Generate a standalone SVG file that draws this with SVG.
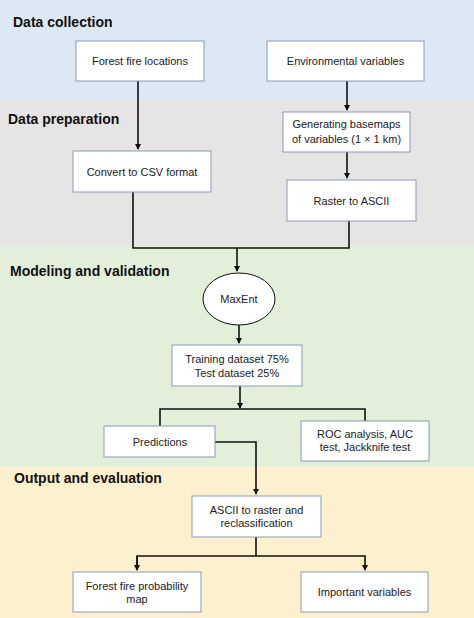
<svg xmlns="http://www.w3.org/2000/svg" width="474" height="618" viewBox="0 0 474 618">
<style>
.t{font-family:"Liberation Sans",Arial,sans-serif;font-size:14px;font-weight:bold;fill:#111}
.n{font-family:"Liberation Sans",Arial,sans-serif;font-size:11px;fill:#222;text-anchor:middle}
.b{fill:#fff;stroke:#8a9bb5;stroke-width:1}
.c{fill:none;stroke:#111;stroke-width:1.6}
</style>
<defs>
<marker id="ah" markerWidth="6" markerHeight="6" refX="5" refY="3" orient="auto" markerUnits="userSpaceOnUse">
<path d="M0,0 L6,3 L0,6 Z" fill="#111"/>
</marker>
</defs>
<g id="bands">
<rect x="0" y="0" width="474" height="100" fill="#dce9f5"/>
<rect x="0" y="100" width="474" height="146" fill="#e6e4e4"/>
<rect x="0" y="246" width="474" height="221" fill="#e2efd9"/>
<rect x="0" y="467" width="474" height="151" fill="#fdf0cf"/>
<text class="t" x="13" y="27">Data collection</text>
<text class="t" x="8" y="124">Data preparation</text>
<text class="t" x="10" y="276">Modeling and validation</text>
<text class="t" x="14" y="483">Output and evaluation</text>
</g>
<g id="connectors">
<path class="c" d="M138,81 V149" marker-end="url(#ah)"/>
<path class="c" d="M347,81 V110" marker-end="url(#ah)"/>
<path class="c" d="M347,152 V178" marker-end="url(#ah)"/>
<path class="c" d="M133,192 V248 H349 V221"/>
<path class="c" d="M237,248 V271" marker-end="url(#ah)"/>
<path class="c" d="M239,325 V343" marker-end="url(#ah)"/>
<path class="c" d="M240,386 V408" marker-end="url(#ah)"/>
<path class="c" d="M160,426 V409 H365 V421"/>
<path class="c" d="M215,442 H256 V494" marker-end="url(#ah)"/>
<path class="c" d="M256,537 V556"/>
<path class="c" d="M137,570 V556 H365 V570" marker-end="url(#ah)"/>
<path class="c" d="M137,556 V570" marker-end="url(#ah)"/>
</g>
<g id="n1"><rect class="b" x="76" y="41" width="128" height="40"/><text class="n" x="140" y="65">Forest fire locations</text></g>
<g id="n2"><rect class="b" x="267" y="41" width="157" height="40"/><text class="n" x="345.5" y="65">Environmental variables</text></g>
<g id="n3"><rect class="b" x="283" y="112" width="127" height="40"/><text class="n" x="346.5" y="128">Generating basemaps</text><text class="n" x="346.5" y="143">of variables (1 × 1 km)</text></g>
<g id="n4"><rect class="b" x="73" y="151" width="138" height="41"/><text class="n" x="142" y="176">Convert to CSV format</text></g>
<g id="n5"><rect class="b" x="287" y="180" width="129" height="41"/><text class="n" x="351.5" y="205">Raster to ASCII</text></g>
<g id="n6"><ellipse cx="239" cy="299" rx="36" ry="26" fill="#fff" stroke="#111" stroke-width="1"/><text class="n" x="239" y="303">MaxEnt</text></g>
<g id="n7"><rect class="b" x="172" y="345" width="130" height="41"/><text class="n" x="237" y="363">Training dataset 75%</text><text class="n" x="237" y="377">Test dataset 25%</text></g>
<g id="n8"><rect class="b" x="104" y="426" width="111" height="31"/><text class="n" x="160" y="446">Predictions</text></g>
<g id="n9"><rect class="b" x="301" y="421" width="128" height="40"/><text class="n" x="365" y="438">ROC analysis, AUC</text><text class="n" x="365" y="451">test, Jackknife test</text></g>
<g id="n10"><rect class="b" x="192" y="496" width="129" height="41"/><text class="n" x="256.5" y="514">ASCII to raster and</text><text class="n" x="256.5" y="527">reclassification</text></g>
<g id="n11"><rect class="b" x="73" y="572" width="128" height="40"/><text class="n" x="137" y="590">Forest fire probability</text><text class="n" x="137" y="603">map</text></g>
<g id="n12"><rect class="b" x="301" y="572" width="127" height="40"/><text class="n" x="364.5" y="596">Important variables</text></g>
</svg>
